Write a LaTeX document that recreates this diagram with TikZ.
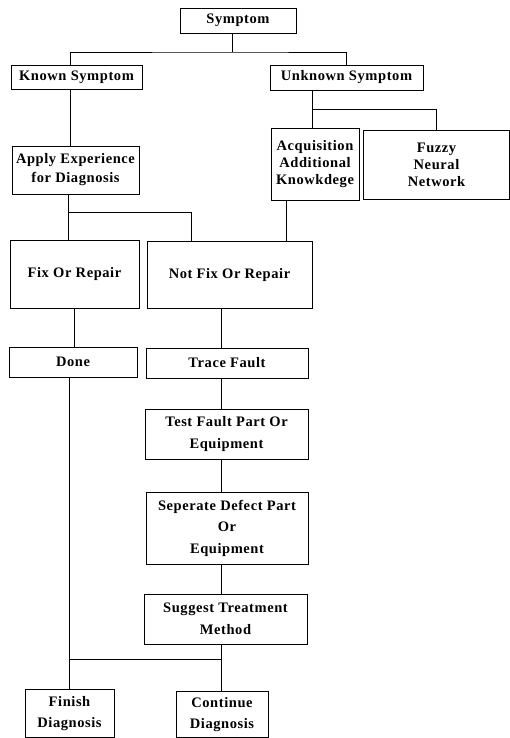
\documentclass[tikz,border=0pt]{standalone}
\usepackage{fontspec}
\setmainfont{Liberation Serif}[LetterSpace=4]
\usetikzlibrary{positioning}

\begin{document}
\begin{tikzpicture}[
    x=1pt, y=-1pt,
    every node/.style={font=\bfseries\fontsize{14.5}{21.5}\selectfont},
    block/.style={rectangle, draw, line width=0.8pt, align=center,
                  inner sep=0pt},
    tight/.style={font=\bfseries\fontsize{14.5}{17}\selectfont},
    link/.style={line width=0.9pt},
]
\useasboundingbox (0,0) rectangle (510,738);
\node[block, minimum width=116pt, minimum height=25pt] (symptom) at (238,20.5) {Symptom};
\node[block, minimum width=131pt, minimum height=24pt] (known) at (76.5,77) {Known Symptom};
\node[block, minimum width=153pt, minimum height=25pt] (unknown) at (346.5,77.5) {Unknown Symptom};
\node[block, font=\bfseries\fontsize{14.5}{19}\selectfont, minimum width=127pt, minimum height=48pt] (apply) at (75.5,170) {Apply Experience\\for Diagnosis};
\node[block, tight, minimum width=88pt, minimum height=72pt] (acq) at (315,164) {Acquisition\\Additional\\Knowkdege};
\node[block, tight, minimum width=146pt, minimum height=69pt] (fuzzy) at (436.5,164.5) {Fuzzy\\Neural\\Network};
\node[block, minimum width=129pt, minimum height=68pt] (fix) at (74.5,274) {Fix Or Repair};
\node[block, minimum width=165pt, minimum height=67pt] (notfix) at (229.5,275) {Not Fix Or Repair};
\node[block, minimum width=128pt, minimum height=30pt] (done) at (73,362) {Done};
\node[block, minimum width=162pt, minimum height=30pt] (trace) at (227,363) {Trace Fault};
\node[block, minimum width=163pt, minimum height=50pt] (test) at (226.5,434) {Test Fault Part Or\\Equipment};
\node[block, minimum width=162pt, minimum height=72pt] (sep) at (227,528) {Seperate Defect Part\\Or\\Equipment};
\node[block, minimum width=163pt, minimum height=50pt] (sugg) at (225.5,619) {Suggest Treatment\\Method};
\node[block, minimum width=89pt, minimum height=48pt] (finish) at (69.5,713.5) {Finish\\Diagnosis};
\node[block, minimum width=92pt, minimum height=46pt] (cont) at (222,714.5) {Continue\\Diagnosis};
% junctions of the tree
\coordinate (j1) at (232,52);
\coordinate (j2) at (312,109);
\coordinate (j3) at (68.5,212);
\coordinate (j4) at (221,659);
\coordinate (spine) at (221,0);
\draw[link] (symptom.south -| j1) -- (j1);
\draw[link] ([xshift=-6pt]known.north) |- (j1) -| (unknown.north);
\draw[link] ([xshift=-6pt]known.south) -- ([xshift=-6pt]known.south |- apply.north);
\draw[link] (unknown.south -| j2) -- ([xshift=-3pt]acq.north);
\draw[link] (j2) -| (fuzzy.north);
\draw[link] ([xshift=-7pt]apply.south) -- ([xshift=-7pt]apply.south |- fix.north);
\draw[link] (j3) -| ([xshift=-38.5pt]notfix.north);
\draw[link] ([xshift=-29pt]acq.south) -- ([xshift=-29pt]acq.south |- notfix.north);
\draw[link] (fix.south) -- (fix.south |- done.north);
\draw[link] (notfix.south -| spine) -- (trace.north -| spine);
\draw[link] (trace.south -| spine) -- (test.north -| spine);
\draw[link] (test.south -| spine) -- (sep.north -| spine);
\draw[link] (sep.south -| spine) -- (sugg.north -| spine);
\draw[link] (sugg.south -| spine) -- (cont.north -| spine);
\draw[link] (done.south -| finish.north) -- (finish.north);
\draw[link] (j4) -- (j4 -| finish.north);
\end{tikzpicture}
\end{document}
